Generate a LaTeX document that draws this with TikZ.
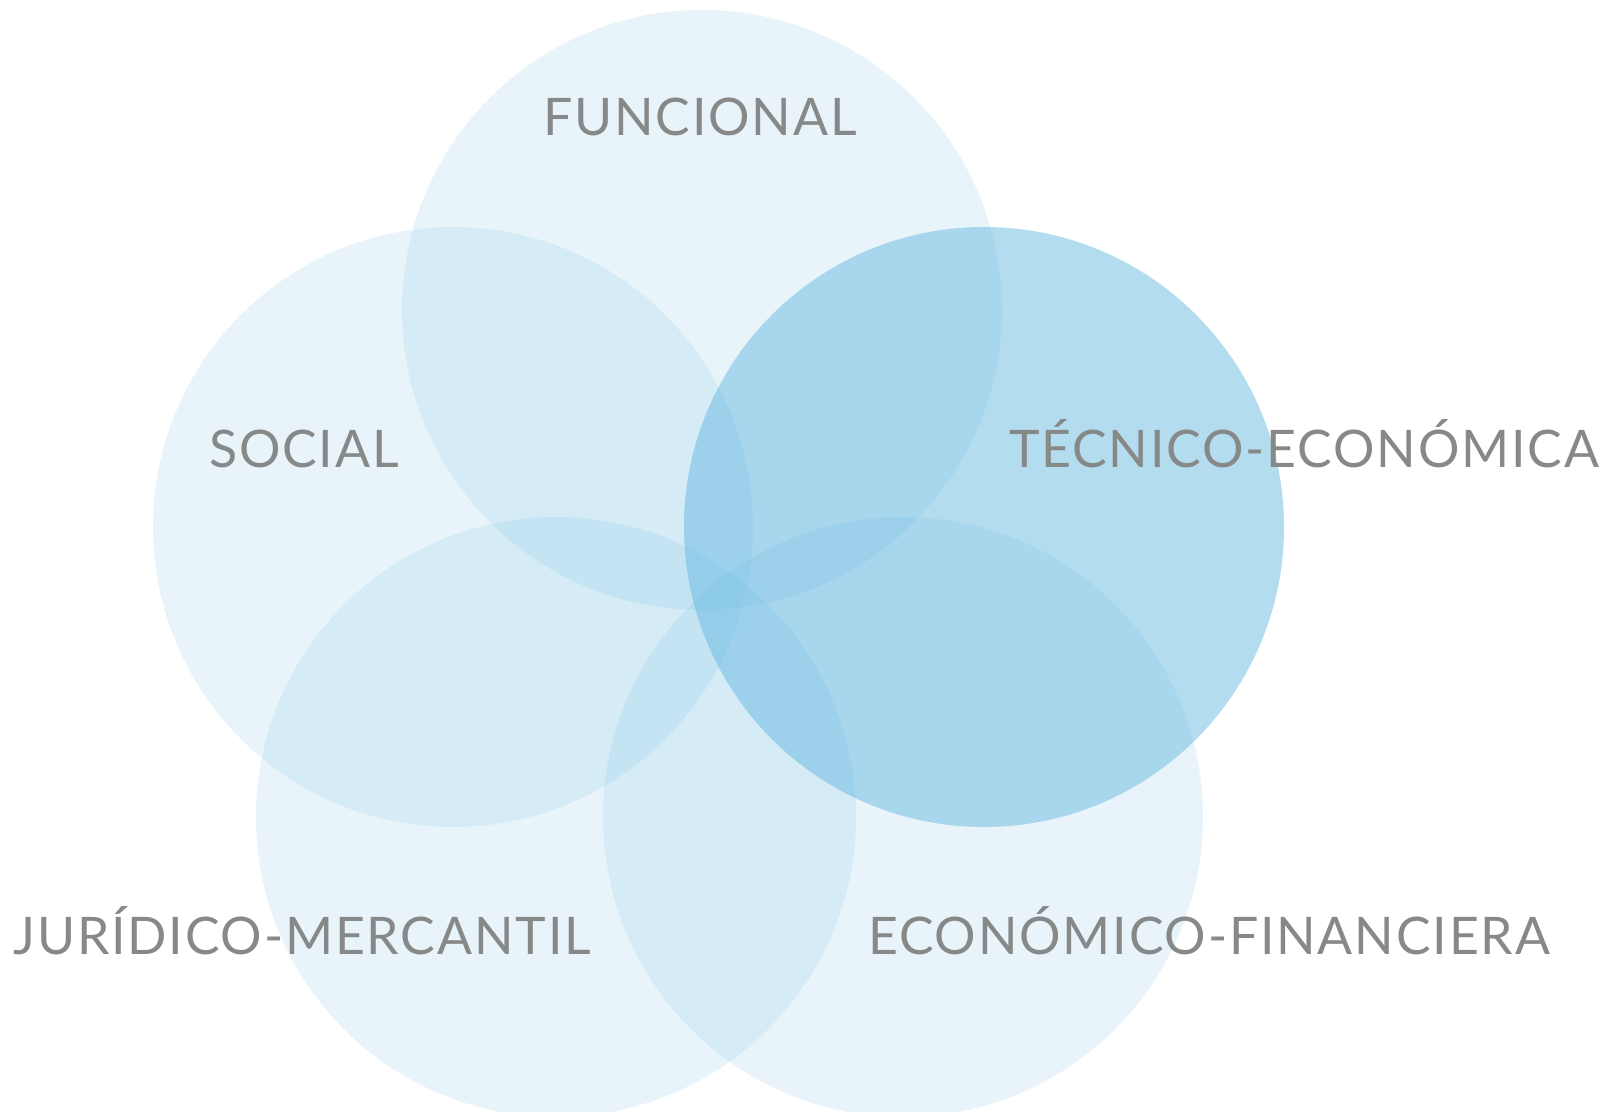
\documentclass[tikz,border=0pt]{standalone}
\usepackage{fontspec}
\setmainfont{Lato}[LetterSpace=3.5]
\definecolor{vennblue}{RGB}{94,180,222}
\definecolor{labelgray}{RGB}{135,137,137}
\tikzset{
	area/.style={fill=vennblue, fill opacity=0.14},
	strongarea/.style={fill=vennblue, fill opacity=0.47},
	arealabel/.style={text=labelgray, anchor=base, inner sep=0pt,
		font=\fontsize{52}{60}\selectfont}
}
\begin{document}
\begin{tikzpicture}[x=1bp,y=1bp]
		\useasboundingbox (0,0) rectangle (1612,1111);
		% Draw circles
		\begin{scope}
			\clip (0,0) rectangle (1612,1111);
			\fill[area] (702,801) circle (300);
			\fill[area] (453,584) circle (300);
			\fill[strongarea] (984,584) circle (300);
			\fill[area] (556,294) circle (300);
			\fill[area] (903,294) circle (300);
		\end{scope}
		% Labels
		\node[arealabel] (funcional) at (700,975) {FUNCIONAL};
		\node[arealabel] (social) at (304,643) {SOCIAL};
		\node[arealabel] (tecnico) at (1304,643) {TÉCNICO-ECONÓMICA};
		\node[arealabel] (juridico) at (302,157) {JURÍDICO-MERCANTIL};
		\node[arealabel] (economico) at (1209,157) {ECONÓMICO-FINANCIERA};
	\end{tikzpicture}
\end{document}
